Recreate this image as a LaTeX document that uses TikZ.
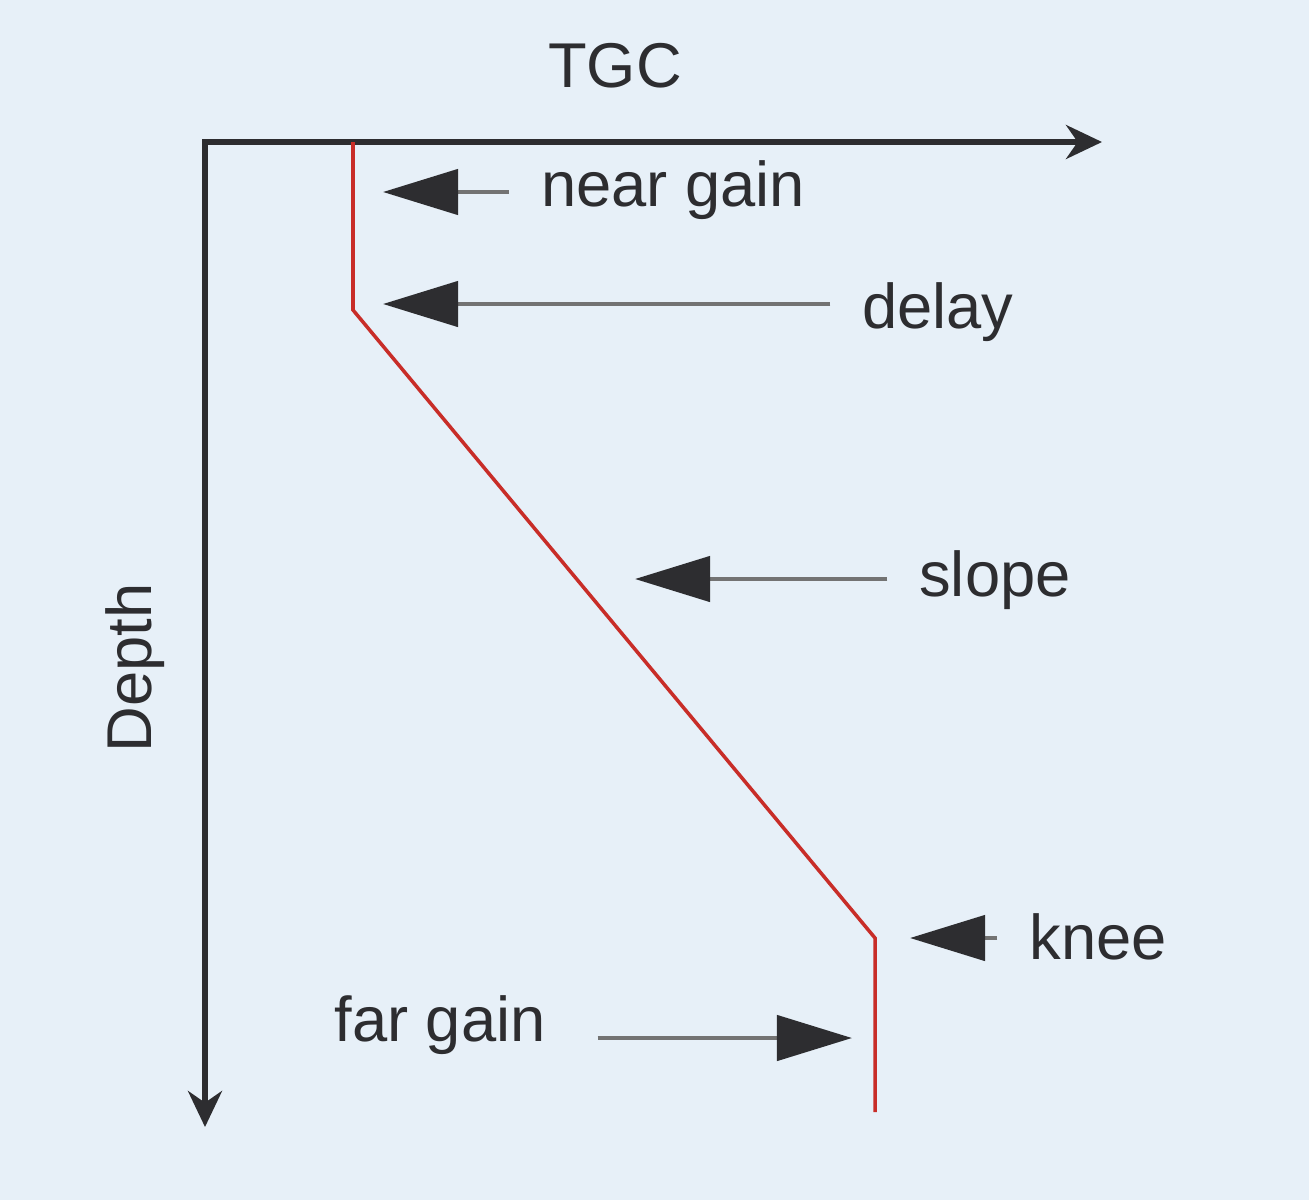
\documentclass[tikz,border=0pt]{standalone}
\usepackage{fontspec}
\setmainfont{Liberation Sans}
\usetikzlibrary{arrows.meta, positioning}

\definecolor{paper}{RGB}{231,240,248}
\definecolor{ink}{RGB}{45,45,48}
\definecolor{gainred}{RGB}{200,45,40}

\begin{document}
\begin{tikzpicture}[
            x = 0.01cm, y = -0.01cm, % one unit per pixel, y downwards
            >= Stealth, % arrow head style
            semithick % line style
        ]

        \tikzstyle{axis}=[
            draw = ink,
            line width = 1.5pt,
            line cap = rect,
            -{Stealth[length=0.36cm, width=0.34cm]}
        ]
        \tikzstyle{pointer}=[
            draw = black!55,
            line width = 1.3pt,
            -{Triangle[length=0.75cm, width=0.45cm, color=ink]}
        ]
        \tikzstyle{tag}=[
            font = \fontsize{18}{20}\selectfont,
            text = ink,
            inner sep = 0pt,
            outer xsep = 0.32cm
        ]
        \tikzstyle{gain}=[
            draw = gainred,
            line width = 1pt
        ]

        \fill[paper] (0,0) rectangle (1309,1200);
        \useasboundingbox (0,0) rectangle (1309,1200);

        % axes
        \coordinate (O) at (205,142);
        \coordinate (xEnd) at (1102,142);
        \coordinate (yEnd) at (205,1127);
        \draw[axis] (O) -- (xEnd);
        \draw[axis] (O) -- (yEnd);

        \node[tag] (TGC) at (615,66) {TGC};
        \node[tag, rotate=90] (Depth) at (135,668) {Depth};

        % gain curve
        \coordinate (g0) at (353,142);
        \coordinate (g1) at (353,310);
        \coordinate (g2) at (875,938);
        \coordinate (g3) at (875,1112);
        \draw[gain] (g0) -- (g1) -- (g2) -- (g3);

        % labels
        \node[tag] (near) at (673,190) {near gain};
        \node[tag] (delay) at (938,312) {delay};
        \node[tag] (slope) at (995,580) {slope};
        \node[tag] (knee) at (1098,937) {knee};
        \node[tag] (far) at (440,1025) {far gain};

        \coordinate (nearTip) at (383,192);
        \coordinate (delayTip) at (383,304);
        \coordinate (slopeTip) at (635,579);
        \coordinate (kneeTip) at (910,938);
        \coordinate (farTip) at (852,1038);

        \draw[pointer] (near.west |- nearTip) -- (nearTip);
        \draw[pointer] (delay.west |- delayTip) -- (delayTip);
        \draw[pointer] (slope.west |- slopeTip) -- (slopeTip);
        \draw[pointer] (knee.west |- kneeTip) -- (kneeTip);
        \draw[pointer, shorten <= 0.2cm] (far.east |- farTip) -- (farTip);

    \end{tikzpicture}
\end{document}
